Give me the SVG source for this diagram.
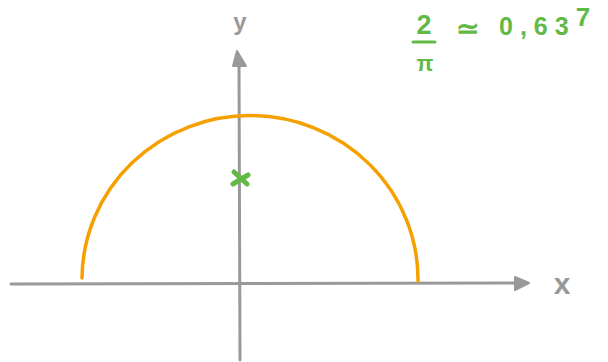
<svg xmlns="http://www.w3.org/2000/svg" width="608" height="362" viewBox="0 0 608 362">
<style>
.axis{fill:none;stroke:#999999;stroke-width:3;stroke-linecap:round}
.head{fill:#999999;stroke:#999999;stroke-width:2;stroke-linejoin:round}
.curve{fill:none;stroke:#f6a000;stroke-width:3.5;stroke-linecap:round}
.green{fill:#62b946;font-family:"Liberation Sans",Arial,sans-serif;font-weight:bold}
.lbl{fill:#999999;font-family:"Liberation Sans",Arial,sans-serif;font-weight:bold}
.mark{fill:none;stroke:#62b946;stroke-width:5;stroke-linecap:round}
</style>
<rect width="608" height="362" fill="#ffffff"/>
<g id="connectors">
<path class="axis" d="M11,284 L515,283"/>
<path class="head" d="M515,277 L529,283 L515,290 Z"/>
<path class="axis" d="M240,360 L239,64"/>
<path class="head" d="M233,66 L237,51 L246,66 Z"/>
</g>
<g id="semicircle">
<path class="curve" d="M82,278 A168,164 0 0 1 418,281"/>
</g>
<g id="centroid">
<path class="mark" d="M234,172 L247,184 M233,184 L248,175"/>
</g>
<g id="y-label">
<text class="lbl" x="240" y="30" font-size="24" text-anchor="middle">y</text>
</g>
<g id="x-label">
<text class="lbl" x="562" y="294" font-size="30" text-anchor="middle">x</text>
</g>
<g id="formula">
<text class="green" x="424" y="34" font-size="27" text-anchor="middle">2</text>
<path d="M413,42 L435,42" stroke="#62b946" stroke-width="3" stroke-linecap="round"/>
<text class="green" x="425" y="71" font-size="22" text-anchor="middle">π</text>
<text class="green" x="467" y="38" font-size="28" text-anchor="middle">≃</text>
<text class="green" x="499" y="35" font-size="25" letter-spacing="7">0,63<tspan dy="-9" font-size="26">7</tspan></text>
</g>
</svg>
